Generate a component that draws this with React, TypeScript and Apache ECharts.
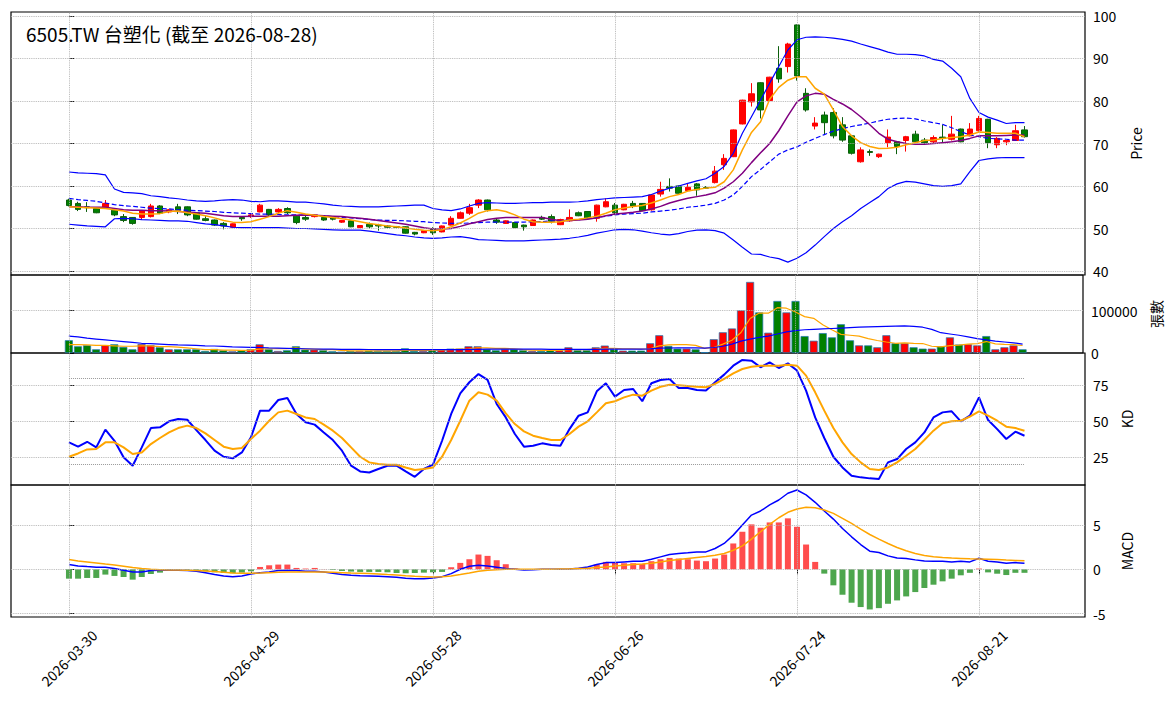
import React, { useEffect, useRef } from "react";
import * as echarts from "echarts";

const TITLE = "6505.TW 台塑化 (截至 2026-08-28)";
const FONT = '"Noto Sans CJK TC", "Noto Sans", sans-serif';

const dates = [
  "2026-03-30","2026-03-31","2026-04-01","2026-04-02","2026-04-07","2026-04-08","2026-04-09","2026-04-10","2026-04-13","2026-04-14",
  "2026-04-15","2026-04-16","2026-04-17","2026-04-20","2026-04-21","2026-04-22","2026-04-23","2026-04-24","2026-04-27","2026-04-28",
  "2026-04-29","2026-04-30","2026-05-04","2026-05-05","2026-05-06","2026-05-07","2026-05-08","2026-05-11","2026-05-12","2026-05-13",
  "2026-05-14","2026-05-15","2026-05-18","2026-05-19","2026-05-20","2026-05-21","2026-05-22","2026-05-25","2026-05-26","2026-05-27",
  "2026-05-28","2026-05-29","2026-06-01","2026-06-02","2026-06-03","2026-06-04","2026-06-05","2026-06-08","2026-06-09","2026-06-10",
  "2026-06-11","2026-06-12","2026-06-15","2026-06-16","2026-06-17","2026-06-18","2026-06-22","2026-06-23","2026-06-24","2026-06-25",
  "2026-06-26","2026-06-29","2026-06-30","2026-07-01","2026-07-02","2026-07-03","2026-07-06","2026-07-07","2026-07-08","2026-07-09",
  "2026-07-10","2026-07-13","2026-07-14","2026-07-15","2026-07-16","2026-07-17","2026-07-20","2026-07-21","2026-07-22","2026-07-23",
  "2026-07-24","2026-07-27","2026-07-28","2026-07-29","2026-07-30","2026-07-31","2026-08-03","2026-08-04","2026-08-05","2026-08-06",
  "2026-08-07","2026-08-10","2026-08-11","2026-08-12","2026-08-13","2026-08-14","2026-08-17","2026-08-18","2026-08-19","2026-08-20",
  "2026-08-21","2026-08-24","2026-08-25","2026-08-26","2026-08-27","2026-08-28",
];

const opens = [
  56.7,55.9,55.1,54.7,55.0,54.3,52.8,52.6,52.6,52.8, 55.3,53.9,55.1,55.1,53.7,52.3,52.0,51.2,50.3,52.6,
  52.8,53.9,54.5,53.9,54.7,52.9,52.6,52.8,52.6,52.6, 51.5,51.8,50.2,51.0,50.8,50.6,50.4,50.4,49.1,49.0,
  50.0,49.2,50.8,52.4,53.6,55.5,56.7,52.0,51.2,51.4, 50.8,50.7,52.6,52.8,50.9,51.8,53.7,54.0,52.4,55.1,
  55.5,54.4,55.9,55.9,54.4,58.1,59.9,60.0,58.9,60.5, 59.6,60.8,65.0,66.9,74.6,79.8,84.3,80.1,87.7,88.1,
  97.9,81.8,74.1,76.7,77.3,74.4,71.8,65.7,68.1,66.9, 70.2,70.4,70.7,72.2,70.8,70.4,71.5,71.0,73.4,71.8,
  73.0,75.7,69.7,70.4,70.7,73.2,
];
const closes = [
  55.4,54.5,54.9,53.7,55.9,53.2,51.9,51.2,54.2,55.3, 53.6,54.4,54.3,53.2,52.2,51.9,50.8,50.6,51.1,52.3,
  53.2,55.5,53.2,54.5,53.7,51.4,52.2,53.2,52.0,52.2, 51.9,50.4,50.7,50.4,50.6,50.3,50.3,48.9,48.7,49.5,
  49.0,50.6,52.4,53.7,54.9,56.7,54.4,51.5,51.8,50.2, 50.4,52.0,52.2,51.7,52.1,52.6,53.0,52.4,55.5,56.3,
  53.7,55.7,55.3,54.2,57.9,59.2,59.5,58.3,59.7,59.1, 59.5,63.5,66.5,73.2,80.2,81.7,77.9,85.6,85.2,93.4,
  85.9,77.9,74.8,74.9,71.8,70.8,67.7,68.5,67.9,67.5, 71.5,69.3,71.6,70.4,70.2,71.4,71.2,72.2,70.4,73.4,
  75.9,70.2,71.2,70.7,73.0,71.6,
];
const lows = [
  55.2,54.1,53.9,53.6,54.9,52.9,51.5,50.9,52.0,52.6, 53.4,53.6,53.4,52.9,52.1,51.7,50.6,49.8,50.2,51.8,
  52.5,53.8,53.0,53.6,53.4,51.0,51.8,52.6,51.8,51.9, 51.3,50.3,50.1,50.0,49.5,50.1,50.1,48.8,48.4,48.9,
  48.5,49.1,50.7,52.3,53.2,54.8,54.0,51.1,51.1,50.1, 49.5,50.6,52.0,51.2,50.8,51.6,52.9,52.2,51.6,55.0,
  53.2,54.3,54.8,54.1,54.2,57.5,58.7,58.2,58.7,57.7, 59.3,60.6,63.8,66.8,74.5,78.7,75.9,80.0,84.3,86.7,
  84.8,77.5,73.3,72.2,71.2,70.4,67.4,65.5,67.1,66.6, 69.1,67.5,68.1,70.3,69.9,70.1,70.2,70.7,70.3,71.7,
  72.8,68.9,68.9,69.6,70.6,71.4,
];
const highs = [
  57.0,56.3,56.2,54.8,56.7,54.4,53.4,52.7,54.3,55.8, 55.5,54.6,55.8,55.2,53.8,52.9,52.1,51.5,51.2,52.9,
  53.6,55.8,54.6,54.8,55.0,53.0,53.0,53.3,52.8,52.9, 52.0,51.9,50.8,51.4,51.1,50.8,50.6,50.5,49.2,49.6,
  50.3,50.7,52.9,54.0,55.8,56.9,56.8,52.4,51.9,51.5, 50.9,52.1,53.0,53.3,52.3,54.5,54.0,54.1,55.6,57.1,
  56.0,55.8,56.5,56.0,58.0,61.0,61.8,60.1,60.6,60.7, 60.0,64.7,67.5,73.3,80.3,84.2,84.4,85.7,92.9,93.7,
  98.0,83.0,76.2,77.5,78.3,76.2,72.0,69.1,68.6,67.6, 73.3,70.6,71.8,73.0,71.3,71.9,74.4,76.5,73.5,74.8,
  76.5,75.8,71.5,70.8,74.4,74.1,
];

const ma5 = [
  55.1,55.0,54.9,54.8,54.7,54.4,54.1,53.6,53.4,53.4, 53.5,54.0,54.1,53.7,53.4,53.0,52.5,51.9,51.5,51.4,
  51.6,52.2,52.8,53.6,54.2,53.8,53.4,53.1,52.8,52.6, 52.3,52.0,51.6,51.2,50.9,50.6,50.4,50.1,49.8,49.6,
  49.5,49.7,50.4,51.3,52.4,53.6,54.2,54.4,54.0,53.2, 52.2,51.6,51.5,51.5,51.6,52.0,52.2,52.5,52.9,53.6,
  54.4,54.8,55.2,55.4,56.0,56.7,57.5,58.0,58.8,59.2, 59.5,59.7,61.0,63.8,68.5,72.6,75.1,80.4,83.2,84.9,
  85.7,85.7,83.0,81.6,77.9,74.0,71.8,70.2,69.3,68.8, 68.9,69.1,69.7,70.2,70.7,70.8,71.2,71.4,71.6,72.0,
  72.7,72.6,72.4,72.4,72.4,71.6,
];
const ma10 = [
  55.1,55.1,55.0,55.0,55.0,54.7,54.4,54.3,54.3,54.2, 54.2,54.1,54.0,53.9,53.7,53.6,53.3,53.0,52.8,52.8,
  52.9,52.9,52.9,52.9,53.0,53.1,53.2,53.1,53.0,52.9, 52.8,52.6,52.4,52.2,51.9,51.6,51.3,51.0,50.6,50.2,
  49.9,49.9,50.0,50.5,51.1,51.6,52.1,52.4,52.6,52.6, 52.6,52.6,52.6,52.2,51.8,51.9,52.0,52.2,52.5,53.0,
  53.4,53.6,53.8,54.1,54.6,55.2,56.0,56.6,57.1,57.5, 57.9,58.4,59.5,61.0,63.0,65.5,67.8,70.0,73.0,76.5,
  79.8,81.2,81.8,81.6,80.4,79.3,78.0,76.3,74.4,72.4, 71.0,70.4,70.0,69.8,69.8,70.0,70.2,70.4,70.7,71.2,
  71.8,71.8,71.8,71.9,72.0,72.0,
];
const ma20 = [
  57.1,56.8,56.6,56.4,56.0,55.6,55.4,55.2,55.0,54.8, 54.7,54.6,54.4,54.3,54.2,54.1,54.0,53.8,53.7,53.6,
  53.5,53.4,53.4,53.3,53.2,53.2,53.1,53.1,53.0,52.8, 52.6,52.5,52.3,52.1,52.0,51.9,51.9,51.8,51.7,51.6,
  51.4,51.3,51.2,51.2,51.3,51.4,51.5,51.5,51.5,51.5, 51.5,51.6,51.6,51.8,51.8,52.0,52.1,52.3,52.6,52.9,
  53.2,53.4,53.5,53.6,53.9,54.1,54.3,54.6,55.0,55.2, 55.5,55.9,56.7,57.9,59.9,62.2,63.9,65.7,67.5,68.5,
  69.2,70.3,71.2,72.1,72.9,73.5,74.0,74.4,74.8,75.3, 75.7,75.9,76.0,75.8,75.3,74.9,74.5,73.7,72.8,72.0,
  71.6,71.2,71.1,71.0,70.8,70.8,
];
const bbUpper = [
  63.3,63.1,63.0,62.9,62.6,59.3,58.5,58.4,58.2,57.7, 57.5,57.2,57.0,56.7,56.5,56.4,56.5,56.7,56.8,56.7,
  56.4,56.3,56.5,56.5,56.4,56.2,56.2,56.0,55.8,55.5, 55.3,55.2,55.1,55.1,55.1,55.2,55.3,55.4,55.5,55.5,
  54.7,54.4,54.2,54.6,55.3,55.9,56.1,56.0,55.9,55.9, 56.0,56.1,56.1,56.2,56.2,56.2,56.3,56.5,56.8,57.0,
  57.2,57.3,57.4,57.5,58.0,58.8,59.5,60.0,60.6,61.2, 61.7,63.0,64.6,67.7,72.4,76.3,80.2,84.2,88.1,92.0,
  94.4,95.0,95.1,95.0,94.8,94.5,94.1,93.4,92.8,92.2, 91.5,91.0,91.0,90.9,90.6,89.8,89.4,87.7,85.7,80.6,
  77.3,76.2,75.5,74.7,74.9,74.9,
];
const bbLower = [
  51.0,50.8,50.6,50.5,50.4,52.3,52.4,52.3,52.1,52.0, 51.9,51.8,51.8,51.7,51.4,51.1,50.9,50.6,50.3,50.2,
  50.2,50.2,50.2,50.2,50.1,50.0,50.0,49.9,49.8,49.7, 49.6,49.6,49.6,49.4,49.1,48.8,48.5,48.3,48.0,47.8,
  47.7,47.8,48.0,48.1,47.8,47.4,47.3,47.2,47.1,47.1, 47.1,47.2,47.3,47.4,47.5,47.7,48.0,48.4,48.9,49.3,
  49.7,49.8,49.7,49.4,49.0,48.7,48.5,48.8,49.3,49.6, 49.7,49.5,48.9,47.3,45.6,44.0,43.9,43.3,42.9,42.1,
  43.0,44.3,46.1,48.1,50.0,51.6,53.0,54.7,56.1,57.5, 59.4,60.5,61.1,60.9,60.5,60.1,59.9,60.1,60.5,63.4,
  66.0,66.4,66.6,66.7,66.7,66.7,
];

const volumes = [
  30200,15900,18300,8700,18300,20600,14300,8700,21400,18300, 13500,8700,8700,8700,8700,4800,9500,6400,4000,6400,
  8700,20600,8700,4800,6400,15900,7900,7900,6400,4000, 3200,4800,4800,5600,4800,4800,4800,11100,4800,4800,
  6400,8700,10300,10300,15900,15900,8700,6400,8700,8700, 6400,4800,4800,6400,6400,13500,6400,6400,13500,17500,
  8700,5600,5600,5600,23000,42000,16700,10300,10300,8700, 2000,32600,49000,58000,101000,168000,96000,48000,123000,96000,
  123000,40000,29000,47000,37000,68000,30000,18000,18000,13500, 42000,23000,23000,13500,10300,10300,15900,37000,20000,20600,
  18000,40000,8700,13500,18000,8700,
];
const volMa5 = [
  20000,20000,19000,18000,18000,17000,16000,16000,17000,17000, 15000,15000,14000,12000,10000,8000,8000,7000,7000,6000,
  7000,9000,10000,10000,10000,12000,9000,9000,8000,8000, 6000,5000,5000,5000,5000,5000,5000,6000,6000,6000,
  6000,7000,8000,9000,10000,12000,12000,11000,11000,10000, 8000,7000,6000,6000,6000,8000,8000,8000,9000,11000,
  11000,10000,10000,9000,10000,17000,19000,20000,20000,18000, 11000,13000,21000,30000,48500,81700,94400,94200,107200,106000,
  97000,86000,82000,67000,55000,44000,42000,40000,34000,29500, 26000,23000,24000,23000,22400,16000,14600,17400,18700,20800,
  22300,27100,21500,20200,19600,17800,
];
const volMa20 = [
  40000,38000,35000,33000,31000,29000,27000,25000,23000,22000, 21000,20000,19000,18500,18000,17000,16500,15500,14500,14000,
  13500,13000,12000,11500,11000,10500,10000,9500,9200,9000, 8800,8700,8500,8300,8200,8000,7800,7800,7800,7800,
  7800,7800,8000,8200,8500,8800,9000,9000,9000,9200, 9200,9000,9000,8800,8600,8600,8500,8500,8700,9000,
  9000,9000,9000,9000,9800,11500,11800,12000,12000,12000, 11500,13000,16000,21000,28000,33000,37000,40000,45000,50000,
  53000,55000,56000,57000,58000,59000,60000,61000,62000,62500, 63000,63500,64000,63000,61000,56000,48000,45000,42000,38000,
  34000,31000,28000,26000,24000,21000,
];

const kValues = [
  35.2,32.2,35.6,31.7,44.0,36.3,24.8,19.0,31.7,45.1, 45.6,49.8,51.4,50.9,43.7,36.8,29.4,25.2,24.1,28.2,
  38.7,57.2,57.2,64.6,66.0,54.9,49.1,47.5,42.1,36.8, 29.4,19.0,15.0,14.3,16.7,19.0,19.0,15.0,11.3,16.7,
  19.7,36.3,54.9,69.2,76.9,82.6,78.5,61.8,52.5,41.0, 32.2,32.9,34.5,33.3,32.9,44.4,53.7,56.0,70.6,76.2,
  66.9,71.5,72.2,63.7,76.2,78.5,79.2,72.9,72.9,71.5, 71.1,76.9,82.2,88.4,92.4,91.9,87.3,90.7,86.8,90.0,
  85.0,71.1,52.5,38.2,25.2,17.8,12.0,10.9,10.2,9.7, 21.3,23.6,30.6,35.2,42.1,52.5,56.0,56.7,49.8,53.7,
  66.4,50.7,44.4,37.5,42.6,39.8,
];
const dValues = [
  25.2,27.5,30.3,30.6,35.2,35.2,31.7,27.1,28.2,34.0, 38.2,42.1,45.1,46.8,45.1,41.4,36.8,32.2,30.6,31.3,
  37.5,43.3,50.2,56.0,57.2,54.9,52.5,51.4,47.5,43.3, 38.2,31.7,25.2,21.3,20.1,19.7,19.7,17.8,16.0,16.7,
  17.8,25.2,36.8,50.2,64.1,69.9,68.3,64.1,55.3,47.9, 42.8,39.8,38.2,36.8,36.8,41.0,46.1,49.8,56.0,62.3,
  63.7,66.4,68.3,67.6,71.1,73.8,75.2,74.8,74.3,73.8, 73.4,75.7,79.2,83.1,86.1,87.7,88.4,88.4,88.4,89.1,
  88.4,81.5,69.9,57.2,45.1,35.2,27.1,21.3,16.7,16.0, 17.8,21.3,25.9,30.6,36.8,43.3,48.4,49.8,50.2,53.0,
  56.7,53.7,50.2,46.1,45.1,43.3,
];
const kdLevels = [80, 20];

const dif = [
  0.53,0.38,0.30,0.23,0.23,0.08,-0.11,-0.30,-0.30,-0.15, -0.11,-0.08,-0.11,-0.15,-0.23,-0.38,-0.60,-0.75,-0.83,-0.75,
  -0.53,-0.38,-0.30,-0.15,-0.11,-0.15,-0.23,-0.23,-0.30,-0.45, -0.60,-0.68,-0.72,-0.75,-0.79,-0.83,-0.91,-1.02,-1.06,-1.06,
  -0.98,-0.83,-0.49,0.00,0.34,0.45,0.38,0.23,0.08,0.00, -0.08,-0.04,0.00,0.00,0.00,0.04,0.11,0.26,0.53,0.75,
  0.75,0.83,0.91,0.91,1.13,1.40,1.66,1.77,1.85,1.96, 1.96,2.34,2.91,3.85,4.98,6.11,6.57,7.25,7.81,8.57,
  8.94,8.38,7.55,6.57,5.66,4.60,3.66,2.79,2.04,1.89, 1.51,1.28,1.21,1.06,0.94,0.91,0.91,0.83,0.91,0.83,
  1.25,0.91,0.83,0.68,0.75,0.68,
];
const dea = [
  1.09,0.94,0.83,0.72,0.60,0.49,0.34,0.19,0.08,0.00, -0.04,-0.08,-0.08,-0.11,-0.15,-0.19,-0.26,-0.34,-0.42,-0.45,
  -0.45,-0.42,-0.38,-0.34,-0.30,-0.30,-0.30,-0.30,-0.30,-0.34, -0.38,-0.42,-0.45,-0.49,-0.53,-0.60,-0.64,-0.72,-0.79,-0.83,
  -0.87,-0.83,-0.75,-0.60,-0.42,-0.23,-0.11,-0.04,0.00,0.00, 0.00,0.00,0.00,0.00,0.04,0.04,0.08,0.11,0.19,0.26,
  0.38,0.45,0.53,0.60,0.68,0.83,0.98,1.09,1.21,1.32, 1.43,1.58,1.77,2.15,2.64,3.40,4.23,5.06,5.81,6.42,
  6.79,6.98,6.94,6.68,6.30,5.74,5.17,4.53,3.92,3.40, 2.91,2.45,2.08,1.77,1.55,1.40,1.32,1.26,1.22,1.18,
  1.17,1.13,1.09,1.04,1.00,0.95,
];
const macdHist = [
  -1.06,-1.06,-0.98,-0.98,-0.60,-0.75,-0.87,-1.17,-0.87,-0.53, -0.38,-0.15,-0.08,-0.08,-0.15,-0.23,-0.34,-0.42,-0.45,-0.38,
  -0.23,0.26,0.45,0.53,0.53,0.15,0.08,0.15,0.02,-0.08, -0.19,-0.26,-0.30,-0.30,-0.30,-0.34,-0.42,-0.45,-0.42,-0.38,
  -0.34,-0.30,0.23,0.72,1.13,1.66,1.51,1.02,0.57,0.10, 0.03,-0.03,0.02,0.02,0.02,0.03,0.05,0.15,0.53,0.83,
  0.75,0.68,0.68,0.60,0.91,1.13,1.28,1.21,1.13,0.98, 0.91,1.21,1.66,2.91,4.23,5.06,4.68,5.28,5.28,5.74,
  4.79,2.79,0.83,-0.49,-1.81,-2.87,-3.77,-4.26,-4.53,-4.38, -3.89,-3.51,-3.06,-2.57,-2.11,-1.74,-1.36,-1.06,-0.68,-0.40,
  0.08,-0.35,-0.50,-0.65,-0.40,-0.40,
];

const xTickIndex = [0, 20, 40, 60, 80, 100];
const priceTicks = [40, 50, 60, 70, 80, 90, 100];
const volumeTicks = [0, 100000];
const kdTicks = [25, 50, 75];
const macdTicks = [-5, 0, 5];

const X_MIN = -6.37;
const X_MAX = 111.65;
const GRID_COLOR = "#b0b0b0";

const pts = (arr: number[]) => arr.map((v, i) => [i, v]);

function gridMarkSeries(idx: number, yVals: number[]) {
  return {
    type: "line",
    xAxisIndex: idx,
    yAxisIndex: idx,
    data: [],
    silent: true,
    z: 0,
    markLine: {
      silent: true,
      symbol: ["none", "none"],
      label: { show: false },
      emphasis: { disabled: true },
      lineStyle: { color: GRID_COLOR, type: "dotted", width: 0.9 },
      data: [
        ...xTickIndex.map((v) => ({ xAxis: v })),
        ...yVals.map((v) => ({ yAxis: v })),
      ],
    },
  };
}

function lineSeries(idx: number, data: number[], color: string, width: number, dashed = false, z = 3) {
  return {
    type: "line",
    xAxisIndex: idx,
    yAxisIndex: idx,
    data: pts(data),
    showSymbol: false,
    symbol: "none",
    silent: true,
    z,
    lineStyle: { color, width, type: dashed ? "dashed" : "solid" },
  };
}

export default function App() {
  const ref = useRef<HTMLDivElement>(null);

  useEffect(() => {
    const chart = echarts.init(ref.current!, undefined, { renderer: "svg" });

    const grids = [
      { top: 12, height: 263 },
      { top: 275, height: 78 },
      { top: 353, height: 132 },
      { top: 485, height: 132 },
    ].map((g) => ({
      left: 11,
      width: 1074,
      top: g.top,
      height: g.height,
      show: true,
      borderColor: "#000",
      borderWidth: 1.2,
      backgroundColor: "transparent",
      containLabel: false,
    }));

    const xAxes = [0, 1, 2, 3].map((i) => ({
      type: "value",
      gridIndex: i,
      min: X_MIN,
      max: X_MAX,
      axisLine: { show: false },
      splitLine: { show: false },
      axisTick: {
        show: i === 3,
        customValues: xTickIndex,
        length: 5,
        lineStyle: { color: "#000" },
      },
      axisLabel: {
        show: i === 3,
        customValues: xTickIndex,
        formatter: (v: number) => dates[Math.round(v)] ?? "",
        rotate: 45,
        align: "center",
        verticalAlign: "middle",
        fontSize: 14,
        fontFamily: FONT,
        color: "#000",
        margin: 41,
      },
    }));

    const yAxisBase = (i: number, min: number, max: number, ticks: number[], name: string, gap: number) => ({
      type: "value",
      gridIndex: i,
      position: "right",
      min,
      max,
      axisLine: { show: false },
      splitLine: { show: false },
      axisTick: { show: true, customValues: ticks, length: 5, lineStyle: { color: "#000" } },
      axisLabel: {
        customValues: ticks,
        fontSize: 14,
        fontFamily: FONT,
        color: "#000",
        margin: 8,
        formatter: (v: number) => String(v),
      },
      name,
      nameLocation: "middle",
      nameRotate: 90,
      nameGap: gap,
      nameTextStyle: { fontSize: 14, fontFamily: FONT, color: "#000" },
    });

    const yAxes = [
      yAxisBase(0, 39.06, 100.94, priceTicks, "Price", 44),
      yAxisBase(1, 0, 184500, volumeTicks, "張數", 66),
      yAxisBase(2, 5.6, 97.2, kdTicks, "KD", 35),
      yAxisBase(3, -5.38, 9.5, macdTicks, "MACD", 35),
    ];

    const candleData = opens.map((o, i) => [i, o, closes[i], lows[i], highs[i]]);

    const volumeData = volumes.map((v, i) => ({
      value: [i, v],
      itemStyle: { color: closes[i] >= opens[i] ? "#ff0000" : "#008000" },
    }));

    const histData = macdHist.map((v, i) => ({
      value: [i, v],
      itemStyle: { color: v >= 0 ? "#ff4d4d" : "#4da64d" },
    }));

    const series: any[] = [
      gridMarkSeries(0, priceTicks),
      gridMarkSeries(1, [100000]),
      gridMarkSeries(2, kdTicks),
      gridMarkSeries(3, macdTicks),
      {
        type: "candlestick",
        xAxisIndex: 0,
        yAxisIndex: 0,
        dimensions: ["idx", "open", "close", "lowest", "highest"],
        encode: { x: "idx", y: ["open", "close", "lowest", "highest"] },
        data: candleData,
        barWidth: 6,
        silent: true,
        z: 2,
        itemStyle: {
          color: "#ff0000",
          color0: "#008000",
          borderColor: "#ff0000",
          borderColor0: "#0b5e0b",
          borderWidth: 1,
        },
      },
      lineSeries(0, bbUpper, "#0000ff", 1.2),
      lineSeries(0, bbLower, "#0000ff", 1.2),
      lineSeries(0, ma20, "#0000ff", 1.2, true),
      lineSeries(0, ma10, "#800080", 1.5),
      lineSeries(0, ma5, "#ffa500", 1.5),
      {
        type: "bar",
        xAxisIndex: 1,
        yAxisIndex: 1,
        data: volumeData,
        barWidth: 8,
        silent: true,
        z: 2,
        itemStyle: { borderColor: "#1f77b4", borderWidth: 0.7 },
      },
      lineSeries(1, volMa5, "#ffa500", 1.2),
      lineSeries(1, volMa20, "#0000ff", 1.2),
      lineSeries(2, kValues, "#0000ff", 2),
      lineSeries(2, dValues, "#ffa500", 2),
      {
        type: "line",
        xAxisIndex: 2,
        yAxisIndex: 2,
        data: [],
        silent: true,
        z: 1,
        markLine: {
          silent: true,
          symbol: ["none", "none"],
          label: { show: false },
          emphasis: { disabled: true },
          lineStyle: { color: "#9a9a9a", type: "dotted", width: 1 },
          data: kdLevels.map((lv) => [{ coord: [0, lv] }, { coord: [dates.length - 1, lv] }]),
        },
      },
      {
        type: "bar",
        xAxisIndex: 3,
        yAxisIndex: 3,
        data: histData,
        barWidth: 6,
        silent: true,
        z: 2,
      },
      lineSeries(3, dif, "#0000ff", 1.5),
      lineSeries(3, dea, "#ffa500", 1.5),
    ];

    chart.setOption({
      animation: false,
      backgroundColor: "#ffffff",
      textStyle: { fontFamily: FONT },
      grid: grids,
      xAxis: xAxes,
      yAxis: yAxes,
      series,
      graphic: [
        {
          type: "text",
          x: 26,
          y: 33,
          silent: true,
          z: 100,
          style: {
            text: TITLE,
            fontSize: 19,
            fontFamily: FONT,
            fill: "#000",
            align: "left",
            verticalAlign: "middle",
          },
        },
      ],
    });

    return () => chart.dispose();
  }, []);

  return (
    <div
      ref={ref}
      style={{ position: "fixed", left: 0, top: 0, width: 1171, height: 701, background: "#fff" }}
    />
  );
}
